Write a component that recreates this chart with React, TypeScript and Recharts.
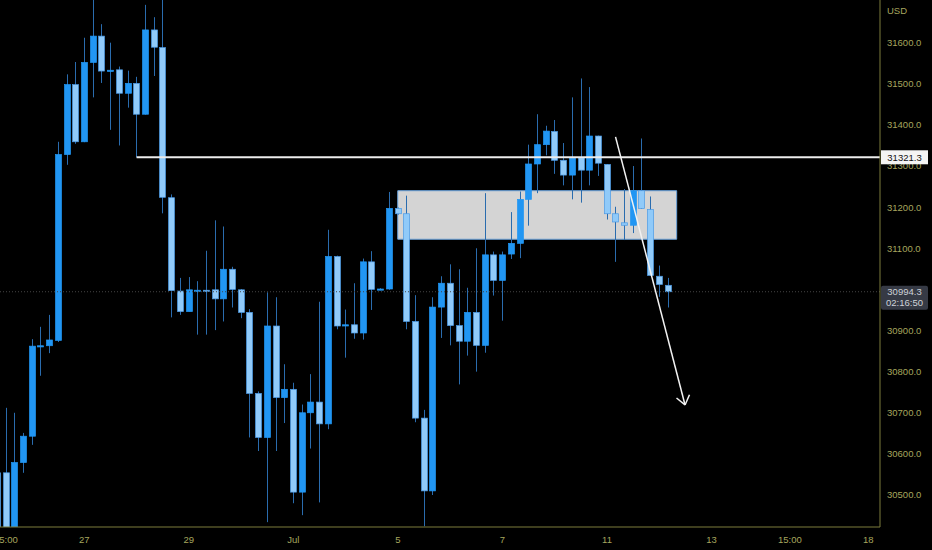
import React from "react";
import {
  ComposedChart,
  Bar,
  XAxis,
  YAxis,
  ReferenceArea,
  ReferenceLine,
} from "recharts";

// 4h candles, index 0 is the bar cut off at the left edge
const OPEN = [
  30554, 30554, 30405, 30579, 30643, 30862, 30863, 30876, 31328, 31498,
  31359, 31552, 31616, 31531, 31534, 31477, 31501, 31426, 31631, 31588,
  31223, 30996, 30946, 30997, 30998, 30999, 30977, 31049, 30999, 30944,
  30747, 30640, 30911, 30737, 30757, 30507, 30700, 30726, 30673, 31080,
  30911, 30914, 30894, 31067, 31000, 31001, 31197, 31184, 30922, 30687,
  30510, 30957, 31015, 30912, 30874, 30944, 30864, 31084, 31022, 31086,
  31112, 31219, 31305, 31352, 31384, 31314, 31278, 31320, 31290, 31373,
  31304, 31184, 31162, 31156, 31240, 31194, 31032, 31010,
];
const HIGH = [
  30560, 30712, 30700, 30651, 30879, 30909, 30938, 31359, 31523, 31553,
  31612, 31720, 31645, 31600, 31542, 31532, 31517, 31692, 31662, 31715,
  31231, 31028, 31030, 31020, 31094, 31168, 31153, 31055, 31001, 30952,
  30752, 30993, 30981, 30818, 30773, 30720, 30794, 30970, 31145, 31082,
  30951, 31015, 31075, 31093, 31003, 31237, 31199, 31228, 30986, 30707,
  30981, 31032, 31061, 31049, 31004, 31100, 31234, 31092, 31092, 31188,
  31238, 31352, 31426, 31398, 31412, 31356, 31467, 31513, 31492, 31374,
  31305, 31201, 31244, 31300, 31367, 31226, 31058, 31028,
];
const LOW = [
  30400, 30395, 30398, 30554, 30622, 30790, 30845, 30872, 31303, 31354,
  31358, 31467, 31502, 31388, 31350, 31442, 31321, 31425, 31519, 31185,
  30932, 30938, 30946, 30890, 30890, 30901, 30922, 30956, 30930, 30640,
  30607, 30434, 30607, 30675, 30480, 30451, 30613, 30482, 30660, 30903,
  30834, 30880, 30878, 30950, 30998, 30999, 31182, 30903, 30677, 30424,
  30500, 30882, 30864, 30769, 30839, 30800, 30846, 30985, 30924, 31074,
  31076, 31155, 31234, 31326, 31281, 31253, 31219, 31211, 31253, 31276,
  31170, 31067, 31120, 31137, 31196, 31033, 30982, 30956,
];
const CLOSE = [
  30410, 30405, 30579, 30643, 30862, 30863, 30877, 31328, 31498, 31359,
  31552, 31616, 31531, 31533, 31477, 31501, 31426, 31631, 31589, 31224,
  30997, 30946, 30999, 30998, 30997, 30977, 31049, 31000, 30944, 30747,
  30640, 30911, 30737, 30757, 30507, 30700, 30726, 30673, 31080, 30911,
  30914, 30894, 31067, 31000, 31001, 31197, 31184, 30922, 30687, 30510,
  30957, 31015, 30912, 30874, 30944, 30864, 31084, 31022, 31084, 31112,
  31219, 31305, 31352, 31385, 31314, 31278, 31320, 31290, 31373, 31307,
  31184, 31164, 31156, 31240, 31197, 31034, 31012, 30994.3,
];

const DATE_TICKS = [1, 10, 22, 34, 46, 58, 70, 82, 91, 100];
const DATE_LABELS = ["15:00", "27", "29", "Jul", "5", "7", "11", "13", "15:00", "18"];
const PRICE_TICKS = [
  30500, 30600, 30700, 30800, 30900, 31000, 31100, 31200, 31300, 31400, 31500, 31600,
];

// drawings
const LEVEL = 31321.3;
const LEVEL_FROM = 16;
const LAST_PRICE = 30994.3;
const COUNTDOWN = "02:16:50";
const ZONE = { x1: 45.98, x2: 78.0, y1: 31122, y2: 31240 };
const ARROW_FROM = { x: 70.98, y: 31371 };
const ARROW_TIP = { x: 78.96, y: 30719 };
const ARROW_WINGS = [
  { x: 77.98, y: 30736 },
  { x: 79.47, y: 30744 },
];

const X_DOMAIN: [number, number] = [0.32, 101.34];
const Y_DOMAIN: [number, number] = [30422.2, 31703.8];
const PLOT_RIGHT = 880;

const UP = "#2196f3";
const DOWN = "#90caf9";
const DOWN_EDGE = "#4a9ae6";
const WICK = "#2a6cae";
const AXIS = "#7d7d3c";
const TEXT = "#a6a65e";
const FONT = '"Liberation Sans", Arial, sans-serif';

const candles = OPEN.map((o, i) => ({
  i,
  o,
  h: HIGH[i],
  l: LOW[i],
  c: CLOSE[i],
}));

function Candle(props: any) {
  const { x, y, width, height, payload } = props;
  if (!payload || !height) return null;
  const { o, h, l, c } = payload;
  const k = height / (h - l);
  const at = (v: number) => y + (h - v) * k;
  const up = c >= o;
  const cx = Math.round(x + width / 2) + 0.5;
  const top = at(Math.max(o, c));
  const bottom = at(Math.min(o, c));
  return (
    <g>
      <line x1={cx} x2={cx} y1={y} y2={y + height} stroke={WICK} strokeWidth={1} />
      <rect
        x={cx - width / 2}
        y={top}
        width={width}
        height={Math.max(bottom - top, 1.2)}
        fill={up ? UP : DOWN}
        stroke={up ? UP : DOWN_EDGE}
        strokeWidth={0.7}
      />
    </g>
  );
}

// price tags sit on their own axis so they paint over the price ticks
function PriceTag(props: any) {
  const { y, payload } = props;
  const x = PLOT_RIGHT;
  if (payload.value === LEVEL) {
    return (
      <g>
        <rect x={x + 1} y={y - 7} width={47} height={14} fill="#f4f4f4" />
        <text x={x + 24.5} y={y + 3.4} textAnchor="middle" fontSize={9.5} fontFamily={FONT} fill="#111">
          {LEVEL.toFixed(1)}
        </text>
      </g>
    );
  }
  return (
    <g>
      <rect x={x + 1} y={y - 6} width={47} height={24} rx={2} fill="#363a45" />
      <text x={x + 24.5} y={y + 3.4} textAnchor="middle" fontSize={9.5} fontFamily={FONT} fill="#cfd2d8">
        {LAST_PRICE.toFixed(1)}
      </text>
      <text x={x + 24.5} y={y + 14.4} textAnchor="middle" fontSize={9.5} fontFamily={FONT} fill="#cfd2d8">
        {COUNTDOWN}
      </text>
    </g>
  );
}

export default function App() {
  const tickStyle = { fill: TEXT, fontSize: 9.5, fontFamily: FONT };
  return (
    <div style={{ width: 932, height: 550, background: "#000" }}>
      <style>{"body{margin:0;background:#000}"}</style>
      <ComposedChart
        width={932}
        height={550}
        data={candles}
        margin={{ top: 0, right: 0, bottom: 0, left: 0 }}
      >
        <XAxis
          dataKey="i"
          type="number"
          domain={X_DOMAIN}
          allowDataOverflow
          ticks={DATE_TICKS}
          interval={0}
          tickFormatter={(v: number) => DATE_LABELS[DATE_TICKS.indexOf(v)]}
          height={23}
          tickSize={0}
          tickMargin={9}
          tickLine={false}
          axisLine={{ stroke: AXIS }}
          tick={tickStyle}
        />
        <YAxis
          orientation="right"
          type="number"
          domain={Y_DOMAIN}
          allowDataOverflow
          ticks={PRICE_TICKS}
          interval={0}
          tickFormatter={(v: number) => v.toFixed(1)}
          width={51}
          tickSize={0}
          tickMargin={7}
          tickLine={false}
          axisLine={{ stroke: AXIS }}
          tick={tickStyle}
          label={{
            value: "USD",
            position: "insideTopLeft",
            offset: 7,
            fill: TEXT,
            fontSize: 9.5,
            fontFamily: FONT,
          }}
        />
        <YAxis
          yAxisId="tags"
          orientation="right"
          type="number"
          domain={Y_DOMAIN}
          allowDataOverflow
          ticks={[LAST_PRICE, LEVEL]}
          interval={0}
          width={1}
          tickSize={0}
          tickLine={false}
          axisLine={false}
          tick={PriceTag}
        />
        <ReferenceArea
          x1={ZONE.x1}
          x2={ZONE.x2}
          y1={ZONE.y1}
          y2={ZONE.y2}
          fill="#d4d4d4"
          fillOpacity={1}
          stroke="#6aa3dc"
          strokeWidth={1}
        />
        <ReferenceLine y={LAST_PRICE} stroke="#444" strokeDasharray="1 2" />
        <Bar
          dataKey={(d: any) => [d.l, d.h]}
          barSize={6}
          shape={Candle}
          isAnimationActive={false}
        />
        <ReferenceLine
          segment={[
            { x: LEVEL_FROM, y: LEVEL },
            { x: X_DOMAIN[1], y: LEVEL },
          ]}
          stroke="#ececec"
          strokeWidth={2}
        />
        <ReferenceLine segment={[ARROW_FROM, ARROW_TIP]} stroke="#f2f2f2" strokeWidth={1.5} />
        {ARROW_WINGS.map((w, k) => (
          <ReferenceLine key={k} segment={[w, ARROW_TIP]} stroke="#f2f2f2" strokeWidth={1.5} />
        ))}
      </ComposedChart>
    </div>
  );
}
